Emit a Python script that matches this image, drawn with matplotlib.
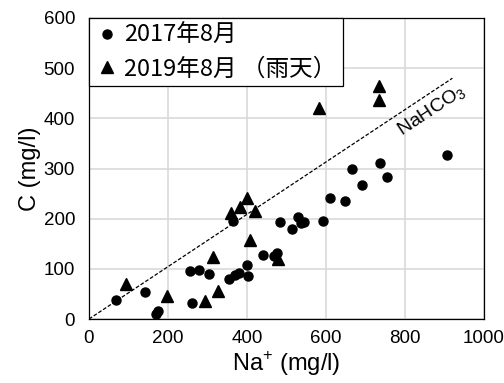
# Na+ vs C scatter, 2017 and 2019 samples with NaHCO3 line

import numpy as np
import matplotlib.pyplot as plt

plt.rcParams['font.family'] = ['Liberation Sans', 'Noto Sans CJK JP']
plt.rcParams['mathtext.fontset'] = 'custom'
plt.rcParams['mathtext.rm'] = 'Liberation Sans'

# 2017年8月 (circles)
na_2017 = [69, 143, 169, 174, 256, 278, 303, 261, 354, 369, 380, 401, 403, 365,
           440, 469, 475, 484, 514, 530, 537, 545, 593, 611, 647, 667, 691, 736,
           754, 906]
c_2017 = [38, 54, 10, 15, 95, 98, 90, 32, 79, 87, 92, 108, 86, 195,
          127, 125, 131, 193, 179, 204, 192, 194, 195, 242, 236, 299, 267, 310,
          283, 327]

# 2019年8月（雨天） (triangles)
na_2019 = [93, 197, 294, 326, 314, 359, 382, 401, 419, 408, 478, 582, 734, 734]
c_2019 = [70, 45, 36, 56, 124, 212, 223, 242, 215, 157, 119, 420, 465, 437]

# NaHCO3 ratio C/Na = 12/23
ratio = 12.0 / 23.0
line_na = np.array([0, 920])

fig = plt.figure(figsize=(5.04, 3.83), dpi=100)
ax = fig.add_axes([89 / 504, 1 - 319 / 383, 395 / 504, 301 / 383])

ax.plot(line_na, ratio * line_na, '--', color='black', lw=0.9, dashes=(3, 1.5), zorder=2)
ax.plot(na_2017, c_2017, 'o', color='black', ms=6.5, ls='none', label='2017年8月', zorder=3)
ax.plot(na_2019, c_2019, '^', color='black', ms=8.5, ls='none', label='2019年8月 （雨天）', zorder=3)

ax.text(868, 414, 'NaHCO$_\\mathregular{3}$', rotation=33.5, fontsize=14,
        ha='center', va='center')

ax.set_xlim(0, 1000)
ax.set_ylim(0, 600)
ax.set_xticks(range(0, 1001, 200))
ax.set_yticks(range(0, 601, 100))
ax.tick_params(length=0, labelsize=13.5)
ax.tick_params(axis='x', pad=8)
ax.tick_params(axis='y', pad=10)
ax.grid(color='#d9d9d9', lw=1.2)
ax.set_axisbelow(True)
for s in ax.spines.values():
    s.set_color('black')
    s.set_linewidth(0.9)

ax.set_xlabel('Na$^\\mathregular{+}$ (mg/l)', fontsize=17, labelpad=2)
ax.set_ylabel('C (mg/l)', fontsize=17, labelpad=2)

leg = ax.legend(loc='upper left', bbox_to_anchor=(0, 1), borderaxespad=0,
                fancybox=False, edgecolor='black', framealpha=1,
                prop={'family': ['Noto Sans CJK JP'], 'size': 17},
                handletextpad=0.25, handlelength=1.0, markerscale=1.0,
                borderpad=0.25, labelspacing=0.45)
leg.get_frame().set_linewidth(0.9)

plt.savefig('out.png', dpi=100)
